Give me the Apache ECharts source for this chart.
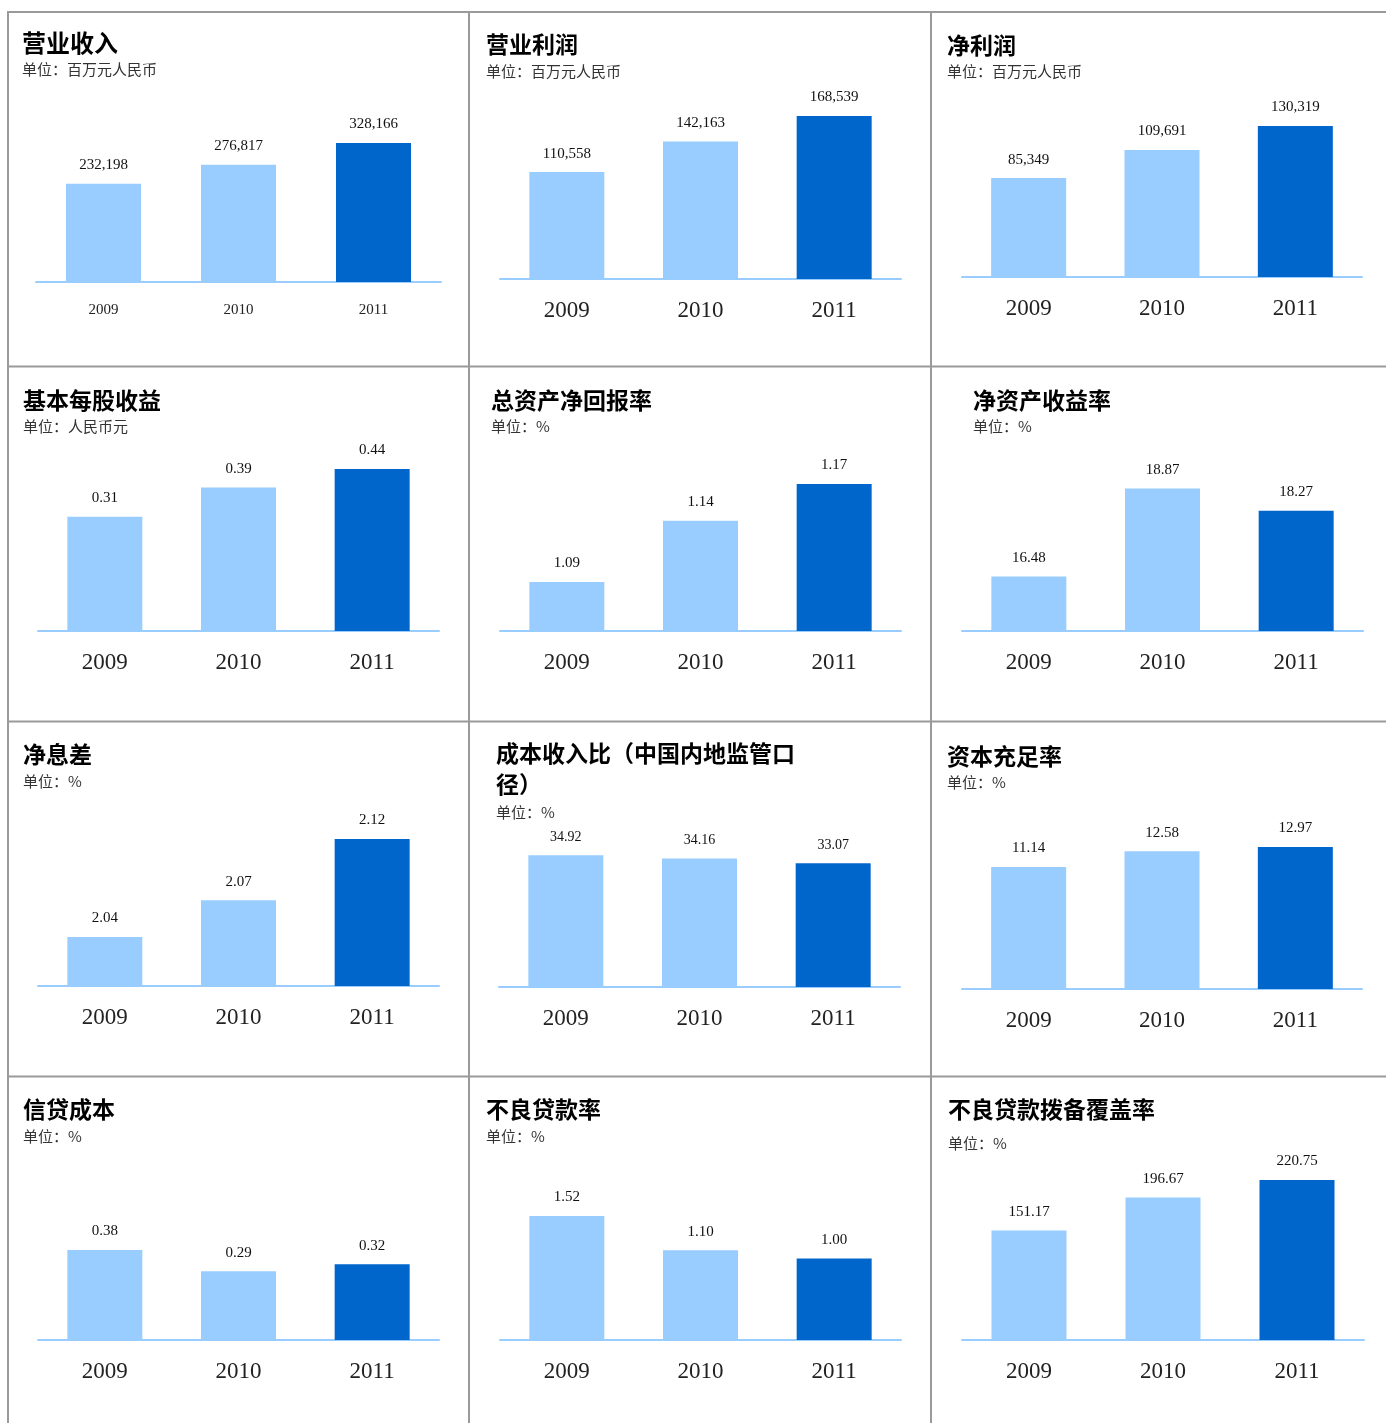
<!DOCTYPE html>
<html>
<head>
<meta charset="utf-8">
<script src="https://cdn.jsdelivr.net/npm/echarts@6/dist/echarts.min.js"></script>
<style>
  html, body { margin: 0; padding: 0; background: #fff; }
  #main { width: 1386px; height: 1423px; }
</style>
</head>
<body>
<div id="main"></div>
<script>
// 年份
const years = ['2009', '2010', '2011']

// 各指标数值
const revenue = [232198, 276817, 328166]
const operatingProfit = [110558, 142163, 168539]
const netProfit = [85349, 109691, 130319]
const eps = [0.31, 0.39, 0.44]
const roa = [1.09, 1.14, 1.17]
const roe = [16.48, 18.87, 18.27]
const nim = [2.04, 2.07, 2.12]
const costIncome = [34.92, 34.16, 33.07]
const car = [11.14, 12.58, 12.97]
const creditCost = [0.38, 0.29, 0.32]
const nplRatio = [1.52, 1.10, 1.00]
const coverage = [151.17, 196.67, 220.75]

const LIGHT = '#99CCFF'
const DARK = '#0066CC'
const PLOT_H = 200

// 每个小图：标题、单位、数据、纵轴范围、位置
const panels = [
  { title: '营业收入', unit: '单位：百万元人民币', data: revenue, thousands: true, min: 0, max: 472200,
    x0: 36, x1: 441, base: 282, tx: 22, ty: 43, sy: 69, titleSize: 24, yearSize: 15 },
  { title: '营业利润', unit: '单位：百万元人民币', data: operatingProfit, thousands: true, min: 0, max: 206800,
    x0: 500, x1: 901, base: 279, tx: 486, ty: 44, sy: 71 },
  { title: '净利润', unit: '单位：百万元人民币', data: netProfit, thousands: true, min: 0, max: 172600,
    x0: 962, x1: 1362, base: 277, tx: 947, ty: 45, sy: 71 },
  { title: '基本每股收益', unit: '单位：人民币元', data: eps, min: 0, max: 0.5432,
    x0: 38, x1: 439, base: 631, tx: 23, ty: 400, sy: 426 },
  { title: '总资产净回报率', unit: '单位：%', data: roa, min: 1.05, max: 1.2133,
    x0: 500, x1: 901, base: 631, tx: 491, ty: 400, sy: 426 },
  { title: '净资产收益率', unit: '单位：%', data: roe, min: 15, max: 20.435,
    x0: 962, x1: 1363, base: 631, tx: 973, ty: 400, sy: 426 },
  { title: '净息差', unit: '单位：%', data: nim, min: 2, max: 2.1633,
    x0: 38, x1: 439, base: 986, tx: 23, ty: 754, sy: 781 },
  { title: '成本收入比（中国内地监管口\n径）', unit: '单位：%', data: costIncome, min: 4, max: 50.95,
    x0: 499, x1: 900, base: 987, tx: 496, ty: 769, sy: 812, labelSize: 14 },
  { title: '资本充足率', unit: '单位：%', data: car, min: 0, max: 18.27,
    x0: 962, x1: 1362, base: 989, tx: 947, ty: 756, sy: 782 },
  { title: '信贷成本', unit: '单位：%', data: creditCost, min: 0, max: 0.8444,
    x0: 38, x1: 439, base: 1340, tx: 23, ty: 1109, sy: 1136 },
  { title: '不良贷款率', unit: '单位：%', data: nplRatio, min: 0, max: 2.4516,
    x0: 500, x1: 901, base: 1340, tx: 486, ty: 1109, sy: 1136 },
  { title: '不良贷款拨备覆盖率', unit: '单位：%', data: coverage, min: 0, max: 275.9,
    x0: 962, x1: 1364, base: 1340, tx: 948, ty: 1109, sy: 1143 }
]

const grid = []
const xAxis = []
const yAxis = []
const series = []
const graphic = []

panels.forEach((p, i) => {
  grid.push({ left: p.x0, width: p.x1 - p.x0, top: p.base - PLOT_H, height: PLOT_H })
  xAxis.push({
    type: 'category',
    gridIndex: i,
    data: years,
    axisLine: { onZero: false, lineStyle: { color: LIGHT, width: 2 } },
    axisTick: { show: false },
    axisLabel: {
      margin: p.yearSize ? 21 : 20,
      color: '#222',
      fontFamily: 'Liberation Serif',
      fontSize: p.yearSize || 23
    }
  })
  yAxis.push({ type: 'value', gridIndex: i, min: p.min, max: p.max, show: false, splitLine: { show: false } })
  series.push({
    type: 'bar',
    xAxisIndex: i,
    yAxisIndex: i,
    data: p.data,
    barWidth: 75,
    itemStyle: { color: params => params.dataIndex === 2 ? DARK : LIGHT },
    label: {
      show: true,
      position: 'top',
      distance: 11,
      color: '#111',
      fontFamily: 'Liberation Serif',
      fontSize: p.labelSize || 15,
      formatter: params => p.thousands
        ? params.value.toLocaleString('en-US')
        : params.value.toFixed(2)
    }
  })
  graphic.push({
    type: 'text',
    x: p.tx,
    y: p.ty,
    style: {
      text: p.title,
      font: 'bold ' + (p.titleSize || 23) + 'px "Noto Sans CJK SC"',
      fill: '#000',
      verticalAlign: 'middle',
      lineHeight: 31
    }
  })
  graphic.push({
    type: 'text',
    x: p.tx,
    y: p.sy,
    style: {
      text: p.unit,
      font: '15px "Noto Sans CJK SC"',
      fill: '#333',
      verticalAlign: 'middle'
    }
  })
})

// 边框
const border = { stroke: '#9a9a9a', lineWidth: 2 }
;[12, 366.5, 721.5, 1076.5].forEach(y => {
  graphic.push({ type: 'line', shape: { x1: 7, y1: y, x2: 1386, y2: y }, style: border })
})
;[8, 469, 931].forEach(x => {
  graphic.push({ type: 'line', shape: { x1: x, y1: 11, x2: x, y2: 1423 }, style: border })
})

const myChart = echarts.init(document.getElementById('main'))
myChart.setOption({
  animation: false,
  grid,
  xAxis,
  yAxis,
  series,
  graphic
})
</script>
</body>
</html>
